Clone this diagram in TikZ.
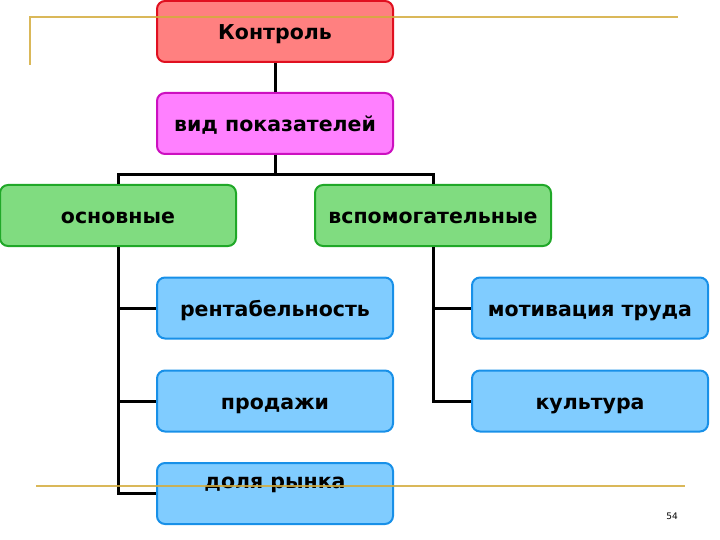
\documentclass[tikz,border=0pt]{standalone}
\usepackage{fontspec}
\setmainfont{DejaVu Sans}
\definecolor{redfill}{HTML}{FF8080}
\definecolor{redline}{HTML}{E01020}
\definecolor{pinkfill}{HTML}{FF80FF}
\definecolor{pinkline}{HTML}{CC10C0}
\definecolor{greenfill}{HTML}{80DC80}
\definecolor{greenline}{HTML}{20A828}
\definecolor{bluefill}{HTML}{80CCFF}
\definecolor{blueline}{HTML}{1890E8}
\definecolor{goldline}{HTML}{D4AC3C}
\tikzset{box/.style={rectangle, rounded corners=8pt, line width=2pt, minimum width=236pt, minimum height=61pt, text height=17pt, text depth=0pt, font=\bfseries\fontsize{20.5}{24}\selectfont}}
\tikzset{redbox/.style={box, draw=redline, fill=redfill}}
\tikzset{pinkbox/.style={box, draw=pinkline, fill=pinkfill}}
\tikzset{greenbox/.style={box, draw=greenline, fill=greenfill}}
\tikzset{bluebox/.style={box, draw=blueline, fill=bluefill}}
\tikzset{conn/.style={draw, line width=3pt}}
\tikzset{rule/.style={draw=goldline, line width=2.2pt, opacity=0.85}}

\begin{document}
\begin{tikzpicture}[x=1pt, y=-1pt]
		\useasboundingbox (0,0) rectangle (720,540);

		%top levels
		\node[redbox] (kontrol) at (275, 31.5) {Контроль};
		\node[pinkbox] (vid) at (275, 123.5) {вид показателей};

		%kinds
		\node[greenbox] (osn) at (118, 215.5) {основные};
		\node[greenbox] (vsp) at (433, 215.5) {вспомогательные};

		%indicators
		\node[bluebox] (rent) at (275, 308) {рентабельность};
		\node[bluebox] (prod) at (275, 401) {продажи};
		\node[bluebox, text depth=27pt] (dolya) at (275, 493.5) {доля рынка};
		\node[bluebox] (motiv) at (590, 308) {мотивация труда};
		\node[bluebox] (kult) at (590, 401) {культура};

		%connectors
		\coordinate (fork) at (275, 175);
		\draw[conn] (kontrol) -- (vid);
		\draw[conn] (vid.south) -- (fork);
		\draw[conn] (osn.north) |- (fork) -| (vsp.north);

		\draw[conn] (osn.south) |- (rent.west);
		\draw[conn] (osn.south) |- (prod.west);
		\draw[conn] (osn.south) |- (dolya.west);

		\draw[conn] (vsp.south) |- (motiv.west);
		\draw[conn] (vsp.south) |- (kult.west);

		%slide rules
		\coordinate (tl) at (30, 65);
		\coordinate (tc) at (30, 17);
		\coordinate (tr) at (678, 17);
		\coordinate (bl) at (36, 486);
		\coordinate (br) at (685, 486);
		\draw[rule] (tl) -- (tc) -- (tr);
		\draw[rule] (bl) -- (br);

		\node[font=\fontsize{9}{10}\selectfont] (pagenum) at (672, 516) {54};

	\end{tikzpicture}
\end{document}
